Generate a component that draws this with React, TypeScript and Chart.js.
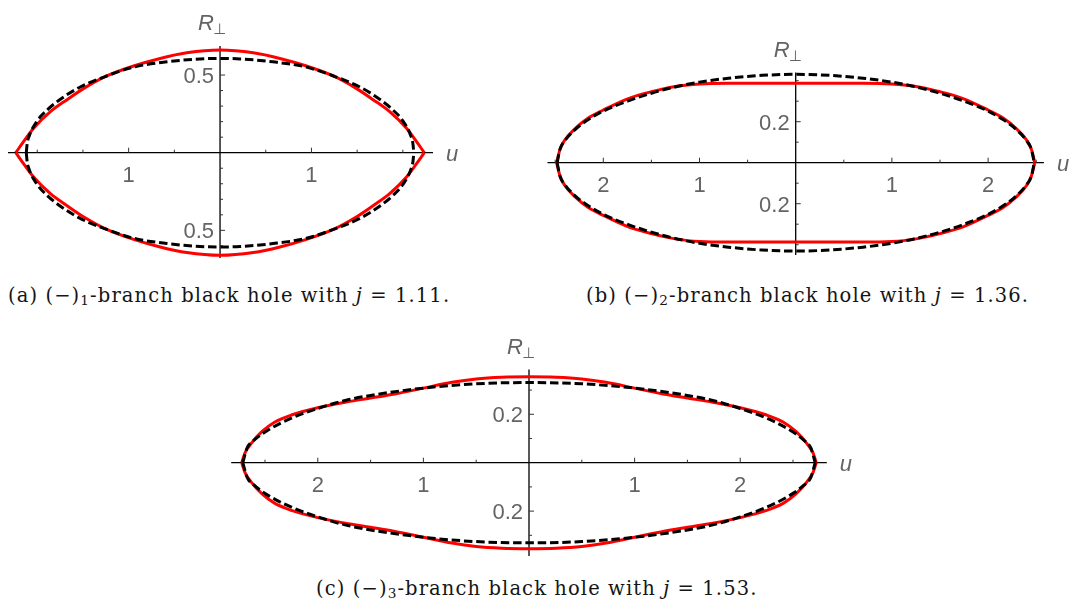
import React, { useEffect, useRef } from "react";
import { Chart, registerables } from "chart.js";

Chart.register(...registerables);

// Horizon profiles R⊥(u) for u ≥ 0; each outline is drawn as ±R⊥ over ±u.
// (−)1 branch, j = 1.11
const uRedA = [0, 0.364, 0.655, 0.946, 1.24, 1.49, 1.67, 1.856, 2.04, 2.15, 2.235];
const rRedA = [0.661, 0.643, 0.607, 0.558, 0.494, 0.414, 0.343, 0.264, 0.157, 0.071, 0];
const uDashA = [0, 0.22, 0.58, 0.946, 1.24, 1.53, 1.75, 1.89, 2.0, 2.09, 2.11, 2.12];
const rDashA = [0.607, 0.604, 0.585, 0.551, 0.494, 0.423, 0.343, 0.276, 0.205, 0.105, 0.06, 0];

// (−)2 branch, j = 1.36
const uRedB = [0, 0.35, 0.7, 1.0, 1.22, 1.5, 1.74, 2.0, 2.16, 2.29, 2.4, 2.45, 2.485];
const rRedB = [0.387, 0.387, 0.387, 0.384, 0.374, 0.346, 0.313, 0.257, 0.217, 0.168, 0.111, 0.065, 0];
const uDashB = [0, 0.35, 0.7, 1.0, 1.22, 1.5, 1.74, 2.0, 2.16, 2.29, 2.4, 2.45, 2.48];
const rDashB = [0.431, 0.426, 0.412, 0.393, 0.373, 0.339, 0.302, 0.252, 0.209, 0.163, 0.107, 0.066, 0];

// (−)3 branch, j = 1.53
const uRedC = [0, 0.26, 0.5, 0.73, 1.0, 1.27, 1.5, 1.74, 2.0, 2.25, 2.41, 2.53, 2.63, 2.69, 2.72];
const rRedC = [0.355, 0.353, 0.346, 0.332, 0.308, 0.284, 0.267, 0.25, 0.227, 0.197, 0.167, 0.128, 0.08, 0.04, 0];
const uDashC = [0, 0.5, 1.0, 1.5, 1.74, 2.0, 2.25, 2.47, 2.6, 2.67, 2.71];
const rDashC = [0.331, 0.326, 0.308, 0.278, 0.257, 0.224, 0.184, 0.135, 0.094, 0.06, 0];

// Tick marks (mirrored to both sides) and the ticks that carry a label
const uTicksA = [0.5, 1, 1.5, 2];
const uLabelsA = [1];
const rTicksA = [0.1, 0.2, 0.3, 0.4, 0.5, 0.6];
const rLabelsA = [0.5];

const uTicksB = [0.5, 1, 1.5, 2, 2.5];
const uLabelsB = [1, 2];
const rTicksB = [0.1, 0.2, 0.3, 0.4];
const rLabelsB = [0.2];

const uTicksC = [0.5, 1, 1.5, 2, 2.5];
const uLabelsC = [1, 2];
const rTicksC = [0.1, 0.2, 0.3];
const rLabelsC = [0.2];

type Panel = {
  left: number;
  top: number;
  width: number;
  height: number;
  xMin: number;
  xMax: number;
  yMin: number;
  yMax: number;
  pad: { left: number; right: number; top: number; bottom: number };
  uRed: number[];
  rRed: number[];
  uDash: number[];
  rDash: number[];
  uTicks: number[];
  uLabels: number[];
  rTicks: number[];
  rLabels: number[];
};

const panelA: Panel = {
  left: 0, top: 0, width: 470, height: 270,
  xMin: -2.32, xMax: 2.33, yMin: -0.678, yMax: 0.687,
  pad: { left: 8, right: 37, top: 46, bottom: 12 },
  uRed: uRedA, rRed: rRedA, uDash: uDashA, rDash: rDashA,
  uTicks: uTicksA, uLabels: uLabelsA, rTicks: rTicksA, rLabels: rLabelsA,
};

const panelB: Panel = {
  left: 530, top: 0, width: 542, height: 270,
  xMin: -2.58, xMax: 2.58, yMin: -0.45, yMax: 0.44,
  pad: { left: 17.5, right: 28.1, top: 72.5, bottom: 15.05 },
  uRed: uRedB, rRed: rRedB, uDash: uDashB, rDash: rDashB,
  uTicks: uTicksB, uLabels: uLabelsB, rTicks: rTicksB, rLabels: rLabelsB,
};

const panelC: Panel = {
  left: 220, top: 330, width: 650, height: 240,
  xMin: -2.82, xMax: 2.82, yMin: -0.385, yMax: 0.385,
  pad: { left: 11.2, right: 43.2, top: 39.5, bottom: 14.1 },
  uRed: uRedC, rRed: rRedC, uDash: uDashC, rDash: rDashC,
  uTicks: uTicksC, uLabels: uLabelsC, rTicks: rTicksC, rLabels: rLabelsC,
};

const LABEL_FONT = "'Liberation Sans', Arial, 'DejaVu Sans', sans-serif";
const LABEL_COLOR = "#646464";

// Upper branch from −u_max to u_max (sign = 1) or its reflection below the axis (sign = −1)
function branch(u: number[], r: number[], sign: number) {
  const pts: { x: number; y: number }[] = [];
  for (let i = u.length - 1; i >= 1; i--) pts.push({ x: -u[i], y: sign * r[i] });
  for (let i = 0; i < u.length; i++) pts.push({ x: u[i], y: sign * r[i] });
  return pts;
}

function PanelChart({ p }: { p: Panel }) {
  const ref = useRef<HTMLCanvasElement>(null);

  useEffect(() => {
    const canvas = ref.current;
    if (!canvas) return;

    // Axes crossing at the origin, ticks pointing into the upper / right side,
    // labels showing |u| and |R⊥|.
    const centredAxes = {
      id: "centredAxes",
      beforeDatasetsDraw(chart: any) {
        const ctx = chart.ctx as CanvasRenderingContext2D;
        const xs = chart.scales.x;
        const ys = chart.scales.y;
        const { left, right, top, bottom } = chart.chartArea;
        const x0 = xs.getPixelForValue(0);
        const y0 = ys.getPixelForValue(0);
        ctx.save();
        ctx.strokeStyle = "#000";
        ctx.lineWidth = 1.3;
        ctx.beginPath();
        ctx.moveTo(left, y0);
        ctx.lineTo(right, y0);
        ctx.moveTo(x0, top);
        ctx.lineTo(x0, bottom);
        ctx.stroke();

        ctx.lineWidth = 1;
        ctx.strokeStyle = "#333";
        ctx.beginPath();
        for (const v of p.uTicks) {
          const len = p.uLabels.includes(v) ? 5 : 3;
          for (const s of [-1, 1]) {
            const px = xs.getPixelForValue(s * v);
            ctx.moveTo(px, y0);
            ctx.lineTo(px, y0 - len);
          }
        }
        for (const v of p.rTicks) {
          const len = p.rLabels.includes(v) ? 5 : 3;
          for (const s of [-1, 1]) {
            const py = ys.getPixelForValue(s * v);
            ctx.moveTo(x0, py);
            ctx.lineTo(x0 + len, py);
          }
        }
        ctx.stroke();

        ctx.fillStyle = LABEL_COLOR;
        ctx.font = `22px ${LABEL_FONT}`;
        ctx.textBaseline = "alphabetic";
        ctx.textAlign = "center";
        for (const v of p.uLabels) {
          for (const s of [-1, 1]) {
            ctx.fillText(String(v), xs.getPixelForValue(s * v), y0 + 29);
          }
        }
        ctx.textAlign = "right";
        for (const v of p.rLabels) {
          for (const s of [-1, 1]) {
            ctx.fillText(String(v), x0 - 6, ys.getPixelForValue(s * v) + 8);
          }
        }

        // axis names
        ctx.textAlign = "left";
        ctx.font = `italic 22px ${LABEL_FONT}`;
        ctx.fillText("R", x0 - 22, top - 16);
        ctx.font = `15px 'DejaVu Sans', ${LABEL_FONT}`;
        ctx.fillText("⊥", x0 - 7, top - 12);
        ctx.font = `italic 22px ${LABEL_FONT}`;
        ctx.fillText("u", right + 13, y0 + 8);
        ctx.restore();
      },
    };

    const redStyle = {
      borderColor: "#ff0000",
      borderWidth: 3,
      showLine: true,
      pointRadius: 0,
      fill: false,
      cubicInterpolationMode: "monotone" as const,
      clip: false as const,
    };
    const dashStyle = {
      borderColor: "#000000",
      borderWidth: 3,
      borderDash: [8.5, 3.8],
      showLine: true,
      pointRadius: 0,
      fill: false,
      cubicInterpolationMode: "monotone" as const,
      clip: false as const,
    };

    const chart = new Chart(canvas, {
      type: "scatter",
      data: {
        datasets: [
          { label: "ellipse upper", data: branch(p.uDash, p.rDash, 1), ...dashStyle },
          { label: "ellipse lower", data: branch(p.uDash, p.rDash, -1), ...dashStyle },
          { label: "horizon upper", data: branch(p.uRed, p.rRed, 1), ...redStyle },
          { label: "horizon lower", data: branch(p.uRed, p.rRed, -1), ...redStyle },
        ],
      },
      options: {
        animation: false,
        responsive: false,
        maintainAspectRatio: false,
        devicePixelRatio: 1,
        layout: { padding: p.pad },
        events: [],
        plugins: {
          legend: { display: false },
          tooltip: { enabled: false },
        },
        scales: {
          x: { type: "linear", min: p.xMin, max: p.xMax, display: false },
          y: { type: "linear", min: p.yMin, max: p.yMax, display: false },
        },
      },
      plugins: [centredAxes],
    } as any);

    return () => chart.destroy();
  }, [p]);

  return (
    <canvas
      ref={ref}
      width={p.width}
      height={p.height}
      style={{
        position: "absolute",
        left: p.left,
        top: p.top,
        width: p.width,
        height: p.height,
      }}
    />
  );
}

const captionStyle: React.CSSProperties = {
  position: "absolute",
  fontFamily: "'DejaVu Serif', 'Liberation Serif', serif",
  fontSize: 19.5,
  letterSpacing: "1.1px",
  lineHeight: "24px",
  whiteSpace: "nowrap",
  color: "#151515",
};

const subStyle: React.CSSProperties = {
  fontSize: "0.7em",
  position: "relative",
  top: "0.25em",
};

function Caption({ tag, index, j, left, top }: { tag: string; index: string; j: string; left: number; top: number }) {
  return (
    <div style={{ ...captionStyle, left, top }}>
      ({tag}) (−)<span style={subStyle}>{index}</span>-branch black hole with <i>j</i> = {j}.
    </div>
  );
}

export default function App() {
  return (
    <div
      style={{
        position: "absolute",
        left: 0,
        top: 0,
        width: 1072,
        height: 602,
        background: "#fff",
        overflow: "hidden",
      }}
    >
      <PanelChart p={panelA} />
      <PanelChart p={panelB} />
      <PanelChart p={panelC} />
      <Caption tag="a" index="1" j="1.11" left={8} top={284} />
      <Caption tag="b" index="2" j="1.36" left={586} top={284} />
      <Caption tag="c" index="3" j="1.53" left={316} top={577} />
    </div>
  );
}
